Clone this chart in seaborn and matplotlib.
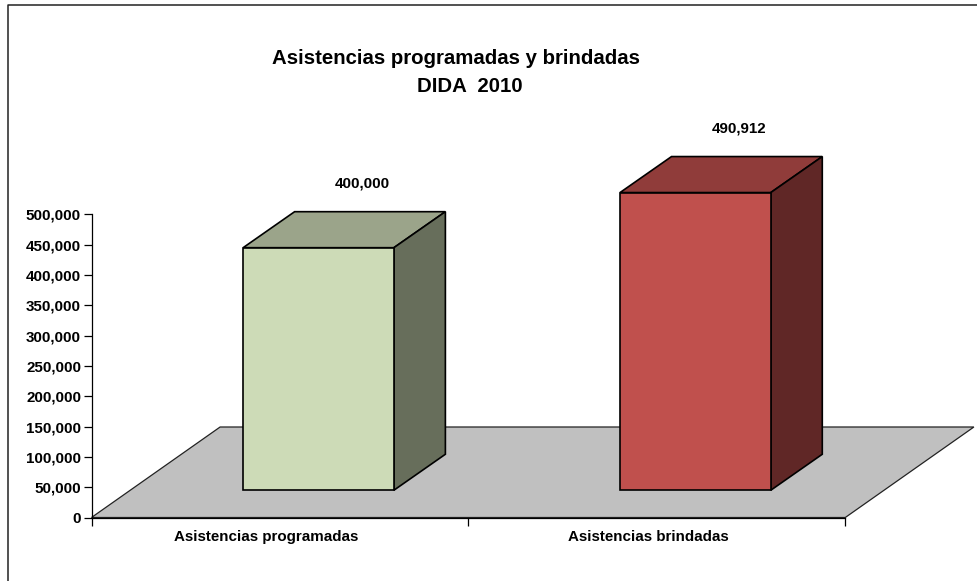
import matplotlib
matplotlib.use("Agg")
import matplotlib.pyplot as plt
import numpy as np
import seaborn as sns
from matplotlib.lines import Line2D

categories = ["Asistencias programadas", "Asistencias brindadas"]
values = [400000, 490912]
yticks = [0, 50000, 100000, 150000, 200000, 250000, 300000, 350000, 400000, 450000, 500000]

front_colors = ["#CDDBB7", "#C0504D"]
top_colors = ["#9BA48A", "#903C3A"]
side_colors = ["#676E5B", "#602726"]

sns.set_style("ticks")
plt.rcParams["font.family"] = ["Liberation Sans", "DejaVu Sans"]
plt.rcParams["font.weight"] = "bold"

W, H = 977, 581
fig = plt.figure(figsize=(W / 100, H / 100), dpi=100)
ax = fig.add_axes([91.5 / W, 1 - 517.5 / H, (845.3 - 91.5) / W, (517.5 - 214.3) / H])

# pixel -> data units
px_x = 2.0 / (845.3 - 91.5)
px_y = 500000 / (517.5 - 214.3)

# 3d depth of the floor and of the bars
floor_dx, floor_dy = 128.6 * px_x, 90.5 * px_y
bar_dx, bar_dy = 51.5 * px_x, 36.0 * px_y
shift_x = (floor_dx - bar_dx) / 2
shift_y = (floor_dy - bar_dy) / 2

sns.barplot(x=categories, y=values, hue=categories, palette=front_colors, legend=False,
            saturation=1, width=0.4, bottom=shift_y, edgecolor="black", linewidth=1.2, ax=ax, zorder=3)

bars = [p for c in ax.containers for p in c]
for i, p in enumerate(bars):
    p.set_x(p.get_x() + shift_x)
    p.set_clip_on(False)
    x0, x1 = p.get_x(), p.get_x() + p.get_width()
    y0, y1 = p.get_y(), p.get_y() + p.get_height()
    ax.fill([x0, x1, x1 + bar_dx, x0 + bar_dx], [y1, y1, y1 + bar_dy, y1 + bar_dy],
            facecolor=top_colors[i], edgecolor="black", linewidth=1.2, clip_on=False, zorder=2)
    ax.fill([x1, x1 + bar_dx, x1 + bar_dx, x1], [y0, y0 + bar_dy, y1 + bar_dy, y1],
            facecolor=side_colors[i], edgecolor="black", linewidth=1.2, clip_on=False, zorder=2)
    ax.annotate(f"{values[i]:,}", ((x0 + x1) / 2, y1 + bar_dy), xytext=(44, 28),
                textcoords="offset pixels", ha="center", va="center", fontsize=10.9,
                fontweight="bold", color="black", annotation_clip=False)

# floor
ax.fill([-0.5, 1.5, 1.5 + floor_dx, -0.5 + floor_dx], [0, 0, floor_dy, floor_dy],
        facecolor="#C0C0C0", edgecolor="#222222", linewidth=0.9, clip_on=False, zorder=1)

ax.set_xlim(-0.5, 1.5)
ax.set_ylim(0, 500000)
ax.patch.set_alpha(0)
ax.set_yticks(yticks, labels=[f"{v:,}" for v in yticks])
ax.set_xticks([-0.5, 0.5, 1.5], labels=["", "", ""])
# labels in the original sit left of the category centers
ax.set_xticks([-13.5 * px_x, 1 - 8 * px_x], labels=categories, minor=True)
ax.tick_params(axis="x", which="minor", length=0, pad=9, labelsize=10.9)
ax.tick_params(axis="x", which="major", length=6, width=0.9, color="black")
ax.tick_params(axis="y", length=6, width=0.9, color="black", pad=1.5, labelsize=10.9, labelcolor="black")
for lab in ax.get_xticklabels(minor=True) + ax.get_yticklabels():
    lab.set_fontweight("bold")
    lab.set_color("black")
sns.despine(ax=ax)
ax.spines["left"].set_color("black")
ax.spines["bottom"].set_color("black")
ax.spines["left"].set_linewidth(0.9)
ax.spines["bottom"].set_linewidth(0.9)

fig.text(455.5 / W, 1 - 59 / H, "Asistencias programadas y brindadas", ha="center", va="center",
         fontsize=14.7, fontweight="bold", color="black")
fig.text(470 / W, 1 - 86 / H, "DIDA  2010", ha="center", va="center",
         fontsize=14.7, fontweight="bold", color="black")

# outer chart frame, only top and left show
fig.add_artist(Line2D([1, 8 / W, 8 / W], [1 - 5 / H, 1 - 5 / H, 0], color="#222222", linewidth=1.1))

fig.savefig("out.png", dpi=100)
